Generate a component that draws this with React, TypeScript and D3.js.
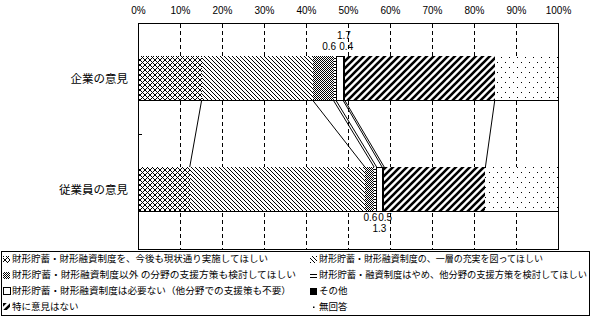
import React from "react";
import * as d3 from "d3";

const categories = ["企業の意見", "従業員の意見"];
const seriesNames = [
  "財形貯蓄・財形融資制度を、今後も現状通り実施してほしい",
  "財形貯蓄・財形融資制度の、一層の充実を図ってほしい",
  "財形貯蓄・財形融資制度以外 の分野の支援方策も検討してほしい",
  "財形貯蓄・融資制度はやめ、他分野の支援方策を検討してほしい",
  "財形貯蓄・財形融資制度は必要ない（他分野での支援策も不要）",
  "その他",
  "特に意見はない",
  "無回答",
];
const companyValues = [15.0, 26.6, 4.9, 0.6, 1.7, 0.4, 35.6, 15.2];
const employeeValues = [12.2, 41.7, 2.2, 0.6, 1.3, 0.5, 24.1, 17.4];
const tickValues = [0, 10, 20, 30, 40, 50, 60, 70, 80, 90, 100];
const labeledSeries = [3, 4, 5];

const W = 595;
const H = 317;
const FONT = "'Noto Sans CJK JP', 'Noto Sans', sans-serif";
const NUMFONT = "'Liberation Sans', Arial, sans-serif";

const patternIds = ["p0", "p1", "p2", "p3", "p4", "p5", "p6", "p7"];
// legend text widths (layout)
const legendWidths = [256, 224, 284, 268, 279, 0, 0, 0];

function Patterns() {
  const px = (x: number, y: number, k: string) => (
    <rect key={k} x={x} y={y} width={1} height={1} fill="#000" />
  );
  return (
    <defs>
      {/* 0: diamond crosshatch */}
      <pattern id="p0" width={5} height={5} patternUnits="userSpaceOnUse">
        <rect width={5} height={5} fill="#fff" />
        {[0, 1, 2, 3, 4].map((i) => px(i, i, "a" + i))}
        {[0, 1, 2, 3, 4].map((i) => px(i, 4 - i, "b" + i))}
      </pattern>
      {/* 1: fine back-diagonal */}
      <pattern id="p1" width={4} height={4} patternUnits="userSpaceOnUse">
        <rect width={4} height={4} fill="#fff" />
        {[0, 1, 2, 3].map((i) => px(i, i, "c" + i))}
      </pattern>
      {/* 2: fine checker */}
      <pattern id="p2" width={2} height={2} patternUnits="userSpaceOnUse">
        <rect width={2} height={2} fill="#fff" />
        {px(0, 0, "d0")}
        {px(1, 1, "d1")}
      </pattern>
      {/* 3: horizontal lines */}
      <pattern id="p3" width={4} height={3} patternUnits="userSpaceOnUse">
        <rect width={4} height={3} fill="#fff" />
        <rect x={0} y={1} width={4} height={1} fill="#000" />
      </pattern>
      {/* 4: white */}
      <pattern id="p4" width={4} height={4} patternUnits="userSpaceOnUse">
        <rect width={4} height={4} fill="#fff" />
      </pattern>
      {/* 5: black */}
      <pattern id="p5" width={4} height={4} patternUnits="userSpaceOnUse">
        <rect width={4} height={4} fill="#000" />
      </pattern>
      {/* 6: thick forward diagonal */}
      <pattern id="p6" width={7} height={7} patternUnits="userSpaceOnUse">
        <rect width={7} height={7} fill="#fff" />
        <path d="M0,7 L7,0 M-1,1 L1,-1 M6,8 L8,6" stroke="#000" strokeWidth={2.6} />
      </pattern>
      {/* 7: sparse dots */}
      <pattern id="p7" width={8} height={10} patternUnits="userSpaceOnUse">
        <rect width={8} height={10} fill="#fff" />
        {px(1, 2, "e0")}
        {px(5, 7, "e1")}
      </pattern>
    </defs>
  );
}

export default function App() {
  const x = d3.scaleLinear().domain([0, 100]).range([138.5, 558.5]);
  const y = d3
    .scaleBand<string>()
    .domain(categories)
    .range([23, 245])
    .paddingInner(0.595)
    .paddingOuter(0.2975);
  const bw = y.bandwidth();
  const frameTop = 23.5;
  const frameBottom = 249.5;

  const allValues = [companyValues, employeeValues];
  const stacked = allValues.map((vals) => {
    let acc = 0;
    return vals.map((v) => {
      const s = acc;
      acc += v;
      return { s, e: acc, v };
    });
  });

  const crisp = (v: number) => Math.round(v - 0.5) + 0.5;

  const topBottom = (y(categories[0]) as number) + bw;
  const botTop = y(categories[1]) as number;

  // legend layout
  const legendTop = 251.5;
  const legendLeft = 1.5;
  const legendRight = 589.5;
  const rowY = [259, 275, 291, 306.5];
  const colX = [3, 310];

  return (
    <div style={{ position: "absolute", left: 0, top: 0 }}>
      <svg width={W} height={H} style={{ display: "block", background: "#fff" }}>
        <Patterns />
        {/* top tick labels */}
        {tickValues.map((t) => (
          <text
            key={"tl" + t}
            x={x(t)}
            y={14}
            textAnchor="middle"
            fontFamily={NUMFONT}
            fontSize={10}
            fill="#000"
          >
            {t}%
          </text>
        ))}
        {/* gridlines */}
        {tickValues.slice(1, -1).map((t) => (
          <line
            key={"g" + t}
            x1={crisp(x(t))}
            x2={crisp(x(t))}
            y1={frameTop}
            y2={frameBottom}
            stroke="#000"
            strokeDasharray="4,3"
            shapeRendering="crispEdges"
          />
        ))}
        {/* bars */}
        {stacked.map((segs, ci) =>
          segs.map((d, si) => (
            <rect
              key={"b" + ci + "-" + si}
              x={x(d.s)}
              y={y(categories[ci]) as number}
              width={x(d.e) - x(d.s)}
              height={bw}
              fill={`url(#${patternIds[si]})`}
              stroke={si === 4 ? "#000" : "none"}
              strokeWidth={1}
              shapeRendering="crispEdges"
            />
          ))
        )}
        {/* full-width lines under bars */}
        {categories.map((c) => (
          <line
            key={"bl" + c}
            x1={x(0)}
            x2={x(100)}
            y1={crisp((y(c) as number) + bw)}
            y2={crisp((y(c) as number) + bw)}
            stroke="#000"
            shapeRendering="crispEdges"
          />
        ))}
        {/* series lines */}
        {stacked[0].slice(0, -1).map((d, i) => (
          <line
            key={"sl" + i}
            x1={x(d.e)}
            y1={topBottom}
            x2={x(stacked[1][i].e)}
            y2={botTop}
            stroke="#000"
            strokeWidth={1}
          />
        ))}
        {/* frame */}
        <rect
          x={crisp(x(0))}
          y={frameTop}
          width={crisp(x(100)) - crisp(x(0))}
          height={frameBottom - frameTop}
          fill="none"
          stroke="#000"
          shapeRendering="crispEdges"
        />
        <line
          x1={crisp(x(0))}
          x2={crisp(x(0)) + 3}
          y1={crisp(23 + y.step())}
          y2={crisp(23 + y.step())}
          stroke="#000"
          shapeRendering="crispEdges"
        />
        {/* category labels */}
        {categories.map((c) => (
          <text
            key={"cl" + c}
            x={128}
            y={(y(c) as number) + bw / 2}
            dy="0.35em"
            textAnchor="end"
            fontFamily={FONT}
            fontSize={11.5}
            fill="#000"
          >
            {c}
          </text>
        ))}
        {/* data labels top bar */}
        {(() => {
          const s = stacked[0];
          const mid = (i: number) => x((s[i].s + s[i].e) / 2);
          return (
            <g fontFamily={NUMFONT} fontSize={10} fill="#000">
              <text x={mid(labeledSeries[0]) + 1} y={50} textAnchor="end">
                {companyValues[labeledSeries[0]].toFixed(1)}
              </text>
              <text x={mid(labeledSeries[1]) + 4} y={38.5} textAnchor="middle">
                {companyValues[labeledSeries[1]].toFixed(1)}
              </text>
              <text x={mid(labeledSeries[2]) - 5} y={50} textAnchor="start">
                {companyValues[labeledSeries[2]].toFixed(1)}
              </text>
            </g>
          );
        })()}
        {(() => {
          const s = stacked[1];
          const mid = (i: number) => x((s[i].s + s[i].e) / 2);
          return (
            <g fontFamily={NUMFONT} fontSize={10} fill="#000">
              <text x={mid(labeledSeries[0]) + 2} y={221} textAnchor="end">
                {employeeValues[labeledSeries[0]].toFixed(1)}
              </text>
              <text x={mid(labeledSeries[1])} y={232} textAnchor="middle">
                {employeeValues[labeledSeries[1]].toFixed(1)}
              </text>
              <text x={mid(labeledSeries[2]) - 5} y={221} textAnchor="start">
                {employeeValues[labeledSeries[2]].toFixed(1)}
              </text>
            </g>
          );
        })()}
        {/* legend */}
        <rect
          x={legendLeft}
          y={legendTop}
          width={legendRight - legendLeft}
          height={315.5 - legendTop}
          fill="#fff"
          stroke="#000"
          shapeRendering="crispEdges"
        />
        {seriesNames.map((name, i) => {
          const row = Math.floor(i / 2);
          const col = i % 2;
          const sx = colX[col];
          const cy = rowY[row];
          const tl = legendWidths[i];
          return (
            <g key={"lg" + i}>
              {i === 7 ? (
                <rect x={sx + 3} y={cy} width={1.5} height={1.5} fill="#000" />
              ) : (
                <rect
                  x={sx}
                  y={cy - 3.5}
                  width={7}
                  height={7}
                  fill={`url(#${patternIds[i]})`}
                  stroke={i === 4 ? "#000" : "none"}
                  shapeRendering="crispEdges"
                />
              )}
              <text
                x={sx + 9}
                y={cy}
                dy="0.35em"
                fontFamily={FONT}
                fontSize={9.5}
                fill="#000"
                {...(tl > 0 ? { textLength: tl, lengthAdjust: "spacingAndGlyphs" } : {})}
              >
                {name}
              </text>
            </g>
          );
        })}
      </svg>
    </div>
  );
}
